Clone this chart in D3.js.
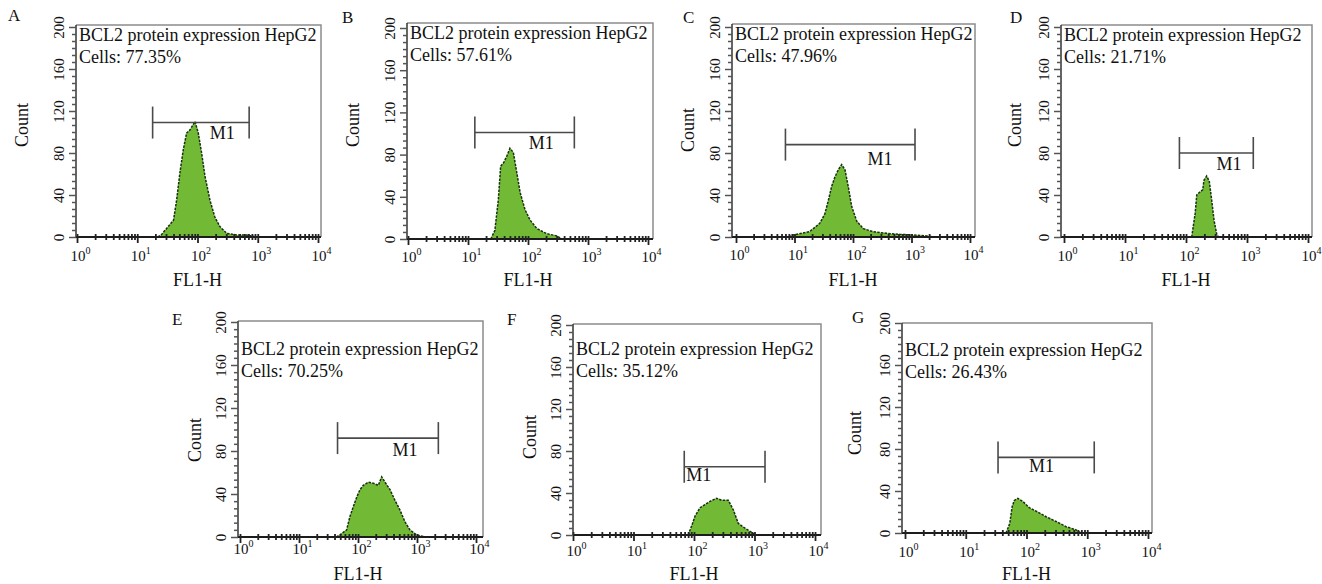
<!DOCTYPE html>
<html>
<head>
<meta charset="utf-8">
<title>BCL2 protein expression HepG2</title>
<script src="https://cdn.jsdelivr.net/npm/d3@7"></script>
<style>
body { margin: 0; background: #fff; }
svg text { font-family: "Liberation Serif", "Times New Roman", serif; fill: #111; }
.frame { fill: none; stroke: #8c8c8c; stroke-width: 1.5; }
.hist { fill: #72ba35; stroke: #17320f; stroke-width: 1.5; stroke-dasharray: 2.5 1.2; }
.gate { stroke: #4a4a4a; stroke-width: 1.6; }
</style>
</head>
<body>
<svg id="chart" width="1322" height="584"></svg>
<script>
// panel letters and gated percentages
var panelIds = ['A', 'B', 'C', 'D', 'E', 'F', 'G'];
var cellsPct = ['77.35', '57.61', '47.96', '21.71', '70.25', '35.12', '26.43'];
var title = 'BCL2 protein expression HepG2';

// tick values
var yMajor = [0, 40, 80, 120, 160, 200];
var xDecades = [1, 10, 100, 1000, 10000];

// histograms: [FL1-H, count]
var histA = [[22,0],[25,2],[40,16],[45,35],[51,61],[58,83],[66,99],[75,102],[91,110],[103,99],[117,80],[133,58],[161,35],[194,19],[235,10],[304,3.5],[445,2],[652,2],[955,0]];
var histB = [[24,0],[28,8],[32,37],[35,69],[39,72],[44,78],[50,86],[57,82],[65,63],[74,44],[89,28],[108,18],[140,10],[205,5],[301,3],[365,0]];
var histC = [[8,0],[9.5,2],[18,5],[27,13],[33,22],[38,35],[43,48],[49,57],[56,64],[64,69],[73,64],[83,48],[95,29],[116,15],[150,8],[222,5],[377,3.5],[636,2.5],[1072,2],[1820,1],[2500,0]];
var histD = [[124,0],[141,22],[150,40],[170,43],[188,45],[197,54],[218,58],[241,53],[264,35],[288,16],[318,3],[339,0]];
var histE = [[43,0],[49.5,2],[64,6.5],[73,19],[83,28],[95,37],[108,44],[123,48],[150,51],[182,50],[221,48],[252,56],[287,51],[349,44],[424,34],[515,25],[626,14],[761,6.5],[988,2],[1367,0]];
var histF = [[80,0],[92,9],[104,18],[126,26],[152,29],[184,32],[237,35],[287,33],[369,33],[446,24],[540,11],[697,6.5],[955,1.5],[1019,0]];
var histG = [[46,0],[53,9],[58,25],[63,31],[72,33],[87,30],[112,24],[153,20],[210,15.5],[307,11],[448,6],[653,3],[789,0]];
var histograms = [histA, histB, histC, histD, histE, histF, histG];

// M1 gates: [from, to, drawn at count]
var gates = [[18,720,109],[13,592,101],[7,1148,88],[78,1268,80],[45,2300,92],[69,1492,65],[34,1303,72]];

// where each panel sits on the page
var layout = [
  {l:76,  t:25,  r:321,  b:237, x0:77,   x1:318,  y200:27,  lx:8,    ly:21,  cdx:-54, cy:125, ty:41,  xly:261, fy:286, mdx:57, mdy:16},
  {l:407, t:23,  r:653,  b:239, x0:408,  x1:648,  y200:28,  lx:342,  ly:23,  cdx:-54, cy:125, ty:39,  xly:262, fy:286, mdx:54, mdy:17},
  {l:732, t:24,  r:975,  b:237, x0:736,  x1:970,  y200:27,  lx:683,  ly:23,  cdx:-44, cy:130, ty:40,  xly:260, fy:286, mdx:82, mdy:20},
  {l:1061,t:25,  r:1312, b:237, x0:1064, x1:1308, y200:27,  lx:1010, ly:23,  cdx:-46, cy:125, ty:41,  xly:261, fy:286, mdx:37, mdy:17},
  {l:238, t:321, r:483,  b:537, x0:240,  x1:476,  y200:322, lx:172,  ly:325, cdx:-43, cy:440, ty:355, xly:554, fy:580, mdx:55, mdy:18},
  {l:573, t:324, r:821,  b:535, x0:573,  x1:815,  y200:325, lx:507,  ly:325, cdx:-43, cy:437, ty:355, xly:556, fy:580, mdx:2,  mdy:14},
  {l:902, t:323, r:1152, b:533, x0:905,  x1:1148, y200:323, lx:852,  ly:323, cdx:-47, cy:433, ty:356, xly:557, fy:580, mdx:31, mdy:15}
];

var xMinor = [];
for (var k = 0; k < 4; k++) {
  for (var m = 1; m < 10; m++) xMinor.push(m * Math.pow(10, k));
}
xMinor.push(10000);
var yTickVals = d3.range(0, 31).map(function(k) { return k * 40 / 6; });

var svg = d3.select('#chart');
svg.append('rect').attr('width', 1322).attr('height', 584).attr('fill', '#fff');

panelIds.forEach(function(id, i) {
  var p = layout[i];
  var g = svg.append('g');
  var x = d3.scaleLog().domain([1, 10000]).range([p.x0, p.x1]);
  var y = d3.scaleLinear().domain([0, 200]).range([p.b, p.y200]);

  // top and right border
  g.append('path').attr('class', 'frame')
    .attr('d', 'M' + p.l + ',' + p.t + 'H' + p.r + 'V' + p.b);

  // histogram
  var area = d3.area()
    .x(function(d) { return x(d[0]); })
    .y0(y(0))
    .y1(function(d) { return y(d[1]); });
  g.append('path').datum(histograms[i]).attr('class', 'hist').attr('d', area);

  // x axis
  var xa = g.append('g').attr('transform', 'translate(0,' + p.b + ')')
    .call(d3.axisBottom(x).tickValues(xMinor).tickSize(3).tickSizeOuter(0).tickFormat(''));
  xa.attr('font-family', null).attr('font-size', null);
  xa.select('.domain').attr('d', 'M' + p.l + ',0H' + p.r).attr('stroke', '#1c1c1c').attr('stroke-width', 2);
  xa.selectAll('.tick line')
    .attr('y1', -3)
    .attr('y2', function(d) { return xDecades.indexOf(d) >= 0 ? 6 : 3; })
    .attr('stroke', '#222').attr('stroke-width', 1.8);
  xa.selectAll('.tick text').each(function(d) {
    var t = d3.select(this);
    t.text(null);
    if (xDecades.indexOf(d) < 0) return;
    t.style('font-size', '15px').attr('y', p.xly - p.b).attr('dy', 0).attr('x', 3);
    t.append('tspan').text('10');
    t.append('tspan').style('font-size', '10px').attr('dy', -7).text(Math.round(Math.log10(d)));
  });

  // y axis
  var ya = g.append('g').attr('transform', 'translate(' + p.l + ',0)')
    .call(d3.axisLeft(y).tickValues(yTickVals).tickSize(4).tickSizeOuter(0)
      .tickFormat(function(d) { return yMajor.indexOf(d) >= 0 ? d : ''; }));
  ya.attr('font-family', null).attr('font-size', null);
  ya.select('.domain').attr('d', 'M0,' + p.b + 'V' + p.t).attr('stroke', '#333').attr('stroke-width', 1.5);
  ya.selectAll('.tick line')
    .attr('x2', function(d) { return yMajor.indexOf(d) >= 0 ? -7 : -4; })
    .attr('stroke', '#555').attr('stroke-width', 1.5);
  ya.selectAll('.tick text')
    .style('font-size', '15px')
    .attr('x', 0).attr('dy', 0)
    .attr('text-anchor', 'middle')
    .attr('transform', 'translate(-12,0) rotate(-90)');

  // M1 gate
  var gt = gates[i];
  var gy = y(gt[2]);
  var gx0 = x(gt[0]), gx1 = x(gt[1]);
  g.append('line').attr('class', 'gate').attr('x1', gx0).attr('x2', gx1).attr('y1', gy).attr('y2', gy);
  [gx0, gx1].forEach(function(cx) {
    g.append('line').attr('class', 'gate').attr('x1', cx).attr('x2', cx).attr('y1', gy - 16).attr('y2', gy + 16);
  });
  g.append('text').attr('x', gx0 + p.mdx).attr('y', gy + p.mdy).attr('font-size', 18).text('M1');

  // annotations
  g.append('text').attr('x', p.l + 3).attr('y', p.ty).attr('font-size', 18).text(title);
  g.append('text').attr('x', p.l + 3).attr('y', p.ty + 22).attr('font-size', 18).text('Cells: ' + cellsPct[i] + '%');

  // axis titles
  g.append('text').attr('x', (p.x0 + p.x1) / 2).attr('y', p.fy)
    .attr('text-anchor', 'middle').attr('font-size', 18).text('FL1-H');
  g.append('text')
    .attr('transform', 'translate(' + (p.l + p.cdx + 6) + ',' + p.cy + ') rotate(-90)')
    .attr('text-anchor', 'middle').attr('font-size', 18).text('Count');

  // panel letter
  g.append('text').attr('x', p.lx).attr('y', p.ly).attr('font-size', 17).text(id);
});
</script>
</body>
</html>
